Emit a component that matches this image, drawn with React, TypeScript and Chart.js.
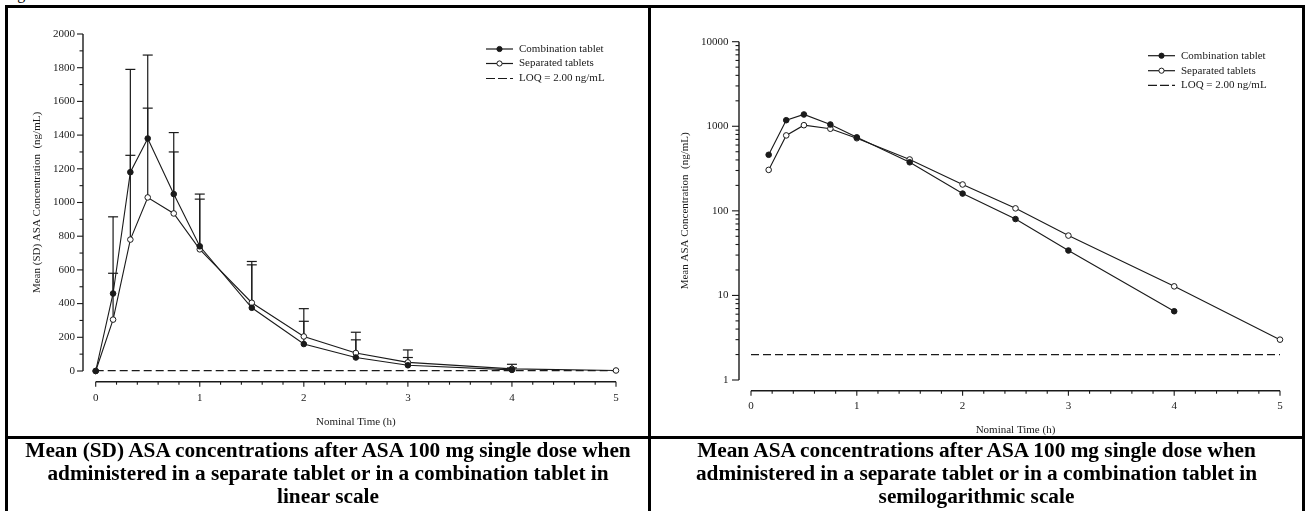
import React, { useEffect, useRef } from "react";
import { Chart, registerables } from "chart.js";
Chart.register(...registerables);

// ---- Data ----
const times = [0, 0.167, 0.333, 0.5, 0.75, 1, 1.5, 2, 2.5, 3, 4, 5];
const combinationMean: (number | null)[] = [0, 460, 1180, 1380, 1050, 740, 375, 160, 80, 34, 6.5, null];
const separatedMean: (number | null)[] = [0, 305, 780, 1030, 935, 722, 405, 205, 107, 51, 12.8, 3.0];
const combinationSD: (number | null)[] = [null, 455, 610, 495, 365, 310, 255, 135, 105, 46, 12, null];
const separatedSD: (number | null)[] = [null, 275, 500, 530, 365, 298, 245, 165, 123, 74, 27, null];
const loqValue = 2;

const xTickLabels = [0, 1, 2, 3, 4, 5];
const linearYTicks = [0, 200, 400, 600, 800, 1000, 1200, 1400, 1600, 1800, 2000];
const logYTicks = [1, 10, 100, 1000, 10000];
const legendLabels = ["Combination tablet", "Separated tablets", "LOQ = 2.00 ng/mL"];

const linearYTitle = "Mean (SD) ASA Concentration  (ng/mL)";
const logYTitle = "Mean ASA Concentration  (ng/mL)";
const xTitle = "Nominal Time (h)";

const captionLinear = [
  "Mean (SD) ASA concentrations after ASA 100 mg single dose when",
  "administered in a separate tablet or in a combination tablet in",
  "linear scale",
];
const captionLog = [
  "Mean ASA concentrations after ASA 100 mg single dose when",
  "administered in a separate tablet or in a combination tablet in",
  "semilogarithmic scale",
];

const FONT = '"Liberation Serif", "Times New Roman", serif';
const INK = "#1a1a1a";

type Cfg = {
  log: boolean;
  yGap: number;
  xGap: number;
  yMajorLen: number;
  yLabelGap: number;
  xLabelOffset: number;
  xTitleOffset: number;
  yTitleX: number;
  yTitle: string;
  errorBars: boolean;
  legendDx: number;
  legendRows: number[];
};

function seg(ctx: CanvasRenderingContext2D, a: number, b: number, c: number, d: number) {
  ctx.beginPath();
  ctx.moveTo(a, b);
  ctx.lineTo(c, d);
  ctx.stroke();
}

function makePlugin(cfg: Cfg) {
  return {
    id: "customAxes",
    beforeDatasetsDraw(chart: any) {
      if (!cfg.errorBars) return;
      const ctx = chart.ctx as CanvasRenderingContext2D;
      const xs = chart.scales.x;
      const ys = chart.scales.y;
      ctx.save();
      ctx.strokeStyle = INK;
      ctx.lineWidth = 1.2;
      const series: [(number | null)[], (number | null)[]][] = [
        [combinationMean, combinationSD],
        [separatedMean, separatedSD],
      ];
      series.forEach(([means, sds]) => {
        times.forEach((t, i) => {
          const m = means[i];
          const s = sds[i];
          if (m == null || s == null) return;
          const xp = xs.getPixelForValue(t);
          const ym = ys.getPixelForValue(m);
          const yu = ys.getPixelForValue(m + s);
          seg(ctx, xp, ym, xp, yu);
          seg(ctx, xp - 5, yu, xp + 5, yu);
        });
      });
      ctx.restore();
    },
    afterDraw(chart: any) {
      const ctx = chart.ctx as CanvasRenderingContext2D;
      const xs = chart.scales.x;
      const ys = chart.scales.y;
      const x0 = xs.getPixelForValue(0);
      const x5 = xs.getPixelForValue(5);
      const yBottom = ys.getPixelForValue(ys.min);
      const yTop = ys.getPixelForValue(ys.max);
      const axX = x0 - cfg.yGap;
      const axY = yBottom + cfg.xGap;
      ctx.save();
      ctx.strokeStyle = INK;
      ctx.fillStyle = INK;
      ctx.lineWidth = 1.4;
      // y axis line
      seg(ctx, axX, yTop, axX, yBottom);
      // x axis line
      seg(ctx, x0, axY, x5, axY);
      ctx.lineWidth = 1.1;
      ctx.font = `11px ${FONT}`;
      // y ticks
      const yMajor = cfg.log ? logYTicks : linearYTicks;
      ctx.textAlign = "right";
      ctx.textBaseline = "middle";
      yMajor.forEach((v) => {
        const p = ys.getPixelForValue(v);
        seg(ctx, axX - cfg.yMajorLen, p, axX, p);
        ctx.fillText(String(v), axX - cfg.yLabelGap, p);
      });
      // y minor ticks
      if (cfg.log) {
        for (let d = 1; d < 10000; d *= 10) {
          for (let k = 2; k <= 9; k++) {
            const p = ys.getPixelForValue(d * k);
            seg(ctx, axX - 3.5, p, axX, p);
          }
        }
      } else {
        for (let v = 100; v < 2000; v += 200) {
          const p = ys.getPixelForValue(v);
          seg(ctx, axX - 3.5, p, axX, p);
        }
      }
      // x ticks
      ctx.textAlign = "center";
      xTickLabels.forEach((v) => {
        const p = xs.getPixelForValue(v);
        seg(ctx, p, axY, p, axY + 5);
        ctx.fillText(String(v), p, axY + cfg.xLabelOffset);
      });
      for (let i = 0; i < 25; i++) {
        if (i % 5 === 0) continue;
        const p = xs.getPixelForValue(i * 0.2);
        seg(ctx, p, axY, p, axY + 3);
      }
      // x title
      ctx.fillText(xTitle, (x0 + x5) / 2, axY + cfg.xTitleOffset);
      // y title
      ctx.save();
      ctx.translate(cfg.yTitleX, (yTop + yBottom) / 2);
      ctx.rotate(-Math.PI / 2);
      ctx.textAlign = "center";
      ctx.textBaseline = "middle";
      ctx.fillText(cfg.yTitle, 0, 0);
      ctx.restore();
      // legend
      const lx1 = chart.chartArea.right - cfg.legendDx;
      const lx2 = lx1 + 27;
      const ltx = lx2 + 6;
      ctx.textAlign = "left";
      ctx.textBaseline = "middle";
      legendLabels.forEach((label, i) => {
        const ly = chart.chartArea.top + cfg.legendRows[i];
        ctx.lineWidth = 1.2;
        if (i === 2) {
          ctx.setLineDash([9, 3]);
          seg(ctx, lx1, ly, lx2, ly);
          ctx.setLineDash([]);
        } else {
          seg(ctx, lx1, ly, lx2, ly);
          ctx.beginPath();
          ctx.arc((lx1 + lx2) / 2, ly, 2.6, 0, Math.PI * 2);
          ctx.fillStyle = i === 0 ? INK : "#fff";
          ctx.fill();
          ctx.lineWidth = 1;
          ctx.stroke();
          ctx.fillStyle = INK;
        }
        ctx.fillText(label, ltx, ly);
      });
      ctx.restore();
    },
  };
}

function buildDatasets(log: boolean) {
  const toPoints = (arr: (number | null)[]) =>
    times
      .map((t, i) => ({ x: t, y: arr[i] }))
      .filter((p) => p.y != null && (!log || (p.y as number) > 0));
  return [
    {
      label: legendLabels[0],
      data: toPoints(combinationMean),
      borderColor: INK,
      backgroundColor: INK,
      borderWidth: 1.1,
      pointRadius: 2.8,
      pointBorderWidth: 1,
      pointBorderColor: INK,
      pointBackgroundColor: INK,
      clip: false,
    },
    {
      label: legendLabels[1],
      data: toPoints(separatedMean),
      borderColor: INK,
      backgroundColor: "#fff",
      borderWidth: 1.1,
      pointRadius: 2.8,
      pointBorderWidth: 1,
      pointBorderColor: INK,
      pointBackgroundColor: "#fff",
      clip: false,
    },
    {
      label: legendLabels[2],
      data: [
        { x: 0, y: loqValue },
        { x: 5, y: loqValue },
      ],
      borderColor: INK,
      borderWidth: 1.2,
      borderDash: [8, 4],
      pointRadius: 0,
      clip: false,
      order: 3,
    },
  ];
}

function PKChart(props: {
  log: boolean;
  left: number;
  width: number;
  height: number;
  padding: { left: number; right: number; top: number; bottom: number };
  cfg: Cfg;
}) {
  const ref = useRef<HTMLCanvasElement | null>(null);
  useEffect(() => {
    if (!ref.current) return;
    const chart = new Chart(ref.current, {
      type: "line",
      data: { datasets: buildDatasets(props.log) as any },
      options: {
        animation: false,
        responsive: false,
        devicePixelRatio: 1,
        layout: { padding: props.padding },
        scales: {
          x: { type: "linear", min: 0, max: 5, display: false },
          y: props.log
            ? { type: "logarithmic", min: 1, max: 10000, display: false }
            : { type: "linear", min: 0, max: 2000, display: false },
        },
        plugins: {
          legend: { display: false },
          tooltip: { enabled: false },
        },
      } as any,
      plugins: [makePlugin(props.cfg) as any],
    });
    return () => chart.destroy();
  }, []);
  return (
    <canvas
      ref={ref}
      width={props.width}
      height={props.height}
      style={{ position: "absolute", left: props.left, top: 0, width: props.width, height: props.height }}
    />
  );
}

const linearCfg: Cfg = {
  log: false,
  yGap: 12.7,
  xGap: 10.7,
  yMajorLen: 6,
  yLabelGap: 8,
  xLabelOffset: 16,
  xTitleOffset: 40,
  yTitleX: 37,
  yTitle: linearYTitle,
  errorBars: true,
  legendDx: 130,
  legendRows: [15, 29.5, 44.5],
};

const logCfg: Cfg = {
  log: true,
  yGap: 12,
  xGap: 10.7,
  yMajorLen: 7,
  yLabelGap: 10.5,
  xLabelOffset: 15.5,
  xTitleOffset: 39.5,
  yTitleX: 33,
  yTitle: logYTitle,
  errorBars: false,
  legendDx: 132,
  legendRows: [14, 29, 43.6],
};

function Caption(props: { left: number; width: number; lines: string[] }) {
  return (
    <div
      style={{
        position: "absolute",
        left: props.left,
        top: 439.4,
        width: props.width,
        textAlign: "center",
        fontFamily: FONT,
        fontWeight: "bold",
        fontSize: 21.3,
        lineHeight: "23px",
        whiteSpace: "nowrap",
        color: "#000",
      }}
    >
      {props.lines.map((l, i) => (
        <div key={i}>{l}</div>
      ))}
    </div>
  );
}

export default function App() {
  const bar = (s: React.CSSProperties) => (
    <div style={{ position: "absolute", background: "#000", ...s }} />
  );
  return (
    <div
      style={{
        position: "absolute",
        left: 0,
        top: 0,
        width: 1307,
        height: 511,
        overflow: "hidden",
        background: "#fff",
      }}
    >
      <div
        style={{
          position: "absolute",
          left: 4,
          top: -15,
          fontFamily: FONT,
          fontSize: 16,
          lineHeight: "18px",
          color: "#000",
        }}
      >
        Figure
      </div>
      <PKChart
        log={false}
        left={0}
        width={652}
        height={437}
        padding={{ left: 95.7, right: 36, top: 34, bottom: 66 }}
        cfg={linearCfg}
      />
      <PKChart
        log={true}
        left={652}
        width={655}
        height={437}
        padding={{ left: 99, right: 27, top: 41.7, bottom: 57 }}
        cfg={logCfg}
      />
      {bar({ left: 5, top: 5, width: 1300, height: 3 })}
      {bar({ left: 5, top: 5, width: 3, height: 520 })}
      {bar({ left: 648, top: 5, width: 3, height: 520 })}
      {bar({ left: 1302, top: 5, width: 3, height: 520 })}
      {bar({ left: 5, top: 436, width: 1300, height: 3 })}
      <Caption left={8} width={640} lines={captionLinear} />
      <Caption left={651} width={651} lines={captionLog} />
    </div>
  );
}
